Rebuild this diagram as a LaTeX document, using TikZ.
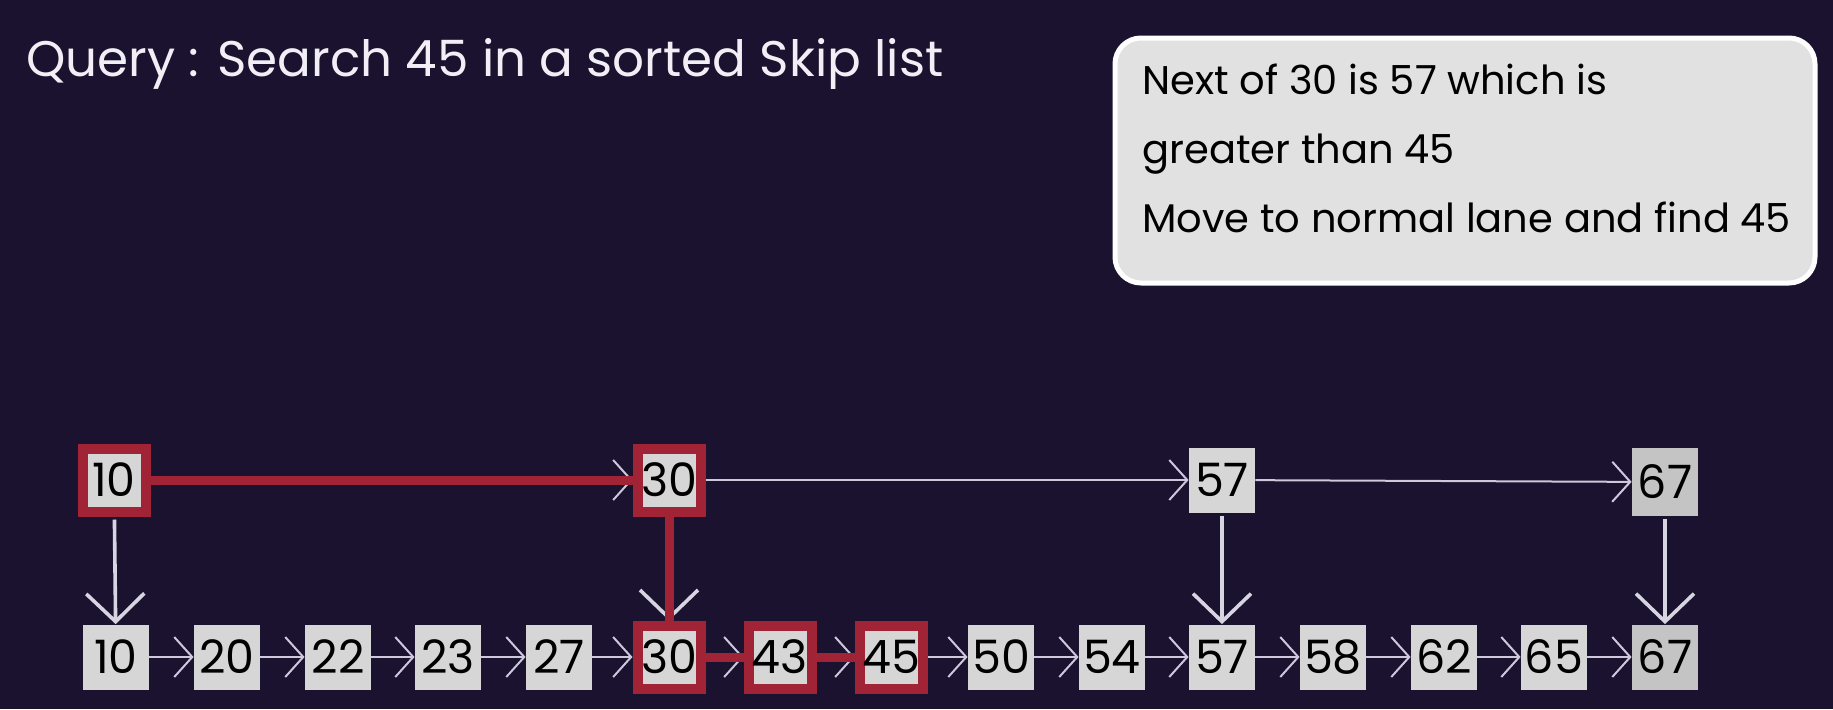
\documentclass[tikz,border=0pt]{standalone}
\usepackage{fontspec}
\setmainfont{Poppins}
\usepackage{tikz}
\usetikzlibrary{arrows.meta}

\definecolor{night}{RGB}{26,18,46}
\definecolor{cellgray}{RGB}{214,214,214}
\definecolor{lastgray}{RGB}{196,196,196}
\definecolor{crimson}{RGB}{160,36,54}
\definecolor{linkgray}{RGB}{205,200,220}
\definecolor{dropgray}{RGB}{216,213,226}
\definecolor{notegray}{RGB}{225,225,225}
\definecolor{titlewhite}{RGB}{242,238,246}

\tikzset{
    cell/.style = {rectangle, fill = cellgray, minimum width = 33pt, minimum height = 32.5pt,
                   inner sep = 0pt, font = \fontsize{23}{26}\selectfont},
    hit/.style = {cell, draw = crimson, line width = 5pt, minimum width = 31.5pt, minimum height = 31.5pt},
    link/.style = {draw = linkgray, line width = 1pt, -{Straight Barb[length = 9pt, width = 20pt, line width = 1pt]}},
    drop/.style = {draw = dropgray, line width = 1.8pt, shorten < = 1.5pt,
                   -{Straight Barb[length = 14pt, width = 29pt, line width = 1.8pt]}},
    trail/.style = {draw = crimson, line width = 4.5pt},
    note/.style = {anchor = base west, inner sep = 0pt, font = \fontsize{20}{24}\selectfont}
}

\begin{document}
\begin{tikzpicture}[x = 0.5pt, y = -0.5pt]
        \fill [night] (0,0) rectangle (1833,709);
        \useasboundingbox (0,0) rectangle (1833,709);

        % question and note
        \node [anchor = base west, inner sep = 0pt, text = titlewhite, font = \fontsize{25}{30}\selectfont] (query) at (26,76) {Query : Search 45 in a sorted Skip list};
        \draw [draw = white, fill = notegray, line width = 2.5pt, rounded corners = 13pt] (1115,38) rectangle (1815,283);
        \node [note] (line1) at (1142,94) {Next of 30 is 57 which is};
        \node [note] (line2) at (1142,163) {greater than 45};
        \node [note] (line3) at (1142,232) {Move to normal lane and find 45};

        \begin{scope}
            % express lane
            \node [hit] (t10) at (114,480) {10};
            \node [hit] (t30) at (669,480) {30};
            \node [cell] (t57) at (1222,480) {57};
            \node [cell, fill = lastgray, minimum height = 34pt] (t67) at (1665,482) {67};

            % normal lane
            \node [cell] (b10) at (116,657) {10};
            \node [cell] (b20) at (227,657) {20};
            \node [cell] (b22) at (338,657) {22};
            \node [cell] (b23) at (448,657) {23};
            \node [cell] (b27) at (559,657) {27};
            \node [hit] (b30) at (669,657) {30};
            \node [hit] (b43) at (780,657) {43};
            \node [hit] (b45) at (891,657) {45};
            \node [cell] (b50) at (1001,657) {50};
            \node [cell] (b54) at (1112,657) {54};
            \node [cell] (b57) at (1222,657) {57};
            \node [cell] (b58) at (1333,657) {58};
            \node [cell] (b62) at (1444,657) {62};
            \node [cell] (b65) at (1554,657) {65};
            \node [cell, fill = lastgray] (b67) at (1665,657) {67};

            % links
            \draw [link] (t10) -- (t30);
            \draw [link] (t30) -- (t57);
            \draw [link] (t57) -- (t67);
            \draw [link] (b10) -- (b20);
            \draw [link] (b20) -- (b22);
            \draw [link] (b22) -- (b23);
            \draw [link] (b23) -- (b27);
            \draw [link] (b27) -- (b30);
            \draw [link] (b30) -- (b43);
            \draw [link] (b43) -- (b45);
            \draw [link] (b45) -- (b50);
            \draw [link] (b50) -- (b54);
            \draw [link] (b54) -- (b57);
            \draw [link] (b57) -- (b58);
            \draw [link] (b58) -- (b62);
            \draw [link] (b62) -- (b65);
            \draw [link] (b65) -- (b67);
            \draw [drop] (t10) -- (b10);
            \draw [drop] (t30) -- (b30);
            \draw [drop] (t57) -- (b57);
            \draw [drop] (t67) -- (b67);

            % search path
            \draw [trail] (t10.east) -- (t30.west);
            \draw [trail] (t30.south) -- (b30.north);
            \draw [trail] (b30.east) -- (b43.west);
            \draw [trail] (b43.east) -- (b45.west);
        \end{scope}

    \end{tikzpicture}
\end{document}
